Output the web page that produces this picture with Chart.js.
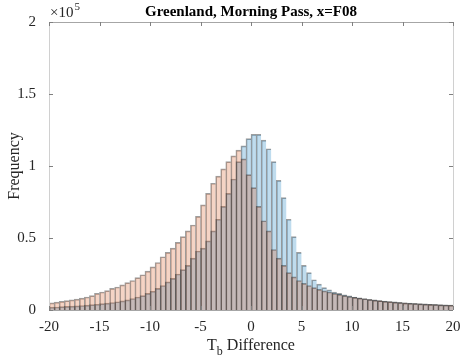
<!DOCTYPE html>
<html>
<head>
<meta charset="utf-8">
<script src="https://cdn.jsdelivr.net/npm/chart.js@4/dist/chart.umd.min.js"></script>
<style>
  html, body { margin: 0; padding: 0; background: #fff; }
  #wrap { width: 464px; height: 360px; }
</style>
</head>
<body>
<div id="wrap"><canvas id="myChart" width="464" height="360"></canvas></div>
<script>
// bin centres, 0.5 wide bins from -20 to 20
const binCenters = [
  -19.75, -19.25, -18.75, -18.25, -17.75, -17.25, -16.75, -16.25, -15.75, -15.25,
  -14.75, -14.25, -13.75, -13.25, -12.75, -12.25, -11.75, -11.25, -10.75, -10.25,
  -9.75, -9.25, -8.75, -8.25, -7.75, -7.25, -6.75, -6.25, -5.75, -5.25,
  -4.75, -4.25, -3.75, -3.25, -2.75, -2.25, -1.75, -1.25, -0.75, -0.25,
  0.25, 0.75, 1.25, 1.75, 2.25, 2.75, 3.25, 3.75, 4.25, 4.75,
  5.25, 5.75, 6.25, 6.75, 7.25, 7.75, 8.25, 8.75, 9.25, 9.75,
  10.25, 10.75, 11.25, 11.75, 12.25, 12.75, 13.25, 13.75, 14.25, 14.75,
  15.25, 15.75, 16.25, 16.75, 17.25, 17.75, 18.25, 18.75, 19.25, 19.75
];

// counts in thousands
const blueCounts = [
  2.0, 2.1, 2.3, 2.5, 2.7, 2.9, 3.1, 3.4, 3.7, 4.0,
  4.4, 4.8, 5.2, 5.7, 6.3, 7.0, 8.0, 9.0, 10, 11.5,
  13, 15, 17, 19.5, 22, 25, 28, 31, 36, 41,
  43, 48, 55, 63, 72, 81, 91, 103, 114, 119,
  122, 122, 118, 112, 103, 90, 78, 63, 51, 40,
  31, 26, 21, 18, 15.5, 14, 12.5, 11.5, 10.5, 9.8,
  9.0, 8.5, 8.0, 7.4, 7.0, 6.5, 6.2, 5.9, 5.6, 5.3,
  5.0, 4.8, 4.6, 4.4, 4.2, 4.0, 3.9, 3.7, 3.6, 3.5
];

const orangeCounts = [
  5.0, 5.5, 6.0, 6.5, 7.0, 7.6, 8.3, 9.0, 10.0, 11.5,
  12.5, 13.5, 15, 16, 17.5, 19, 20.5, 22.5, 24.5, 27,
  30, 33, 37, 40, 43, 47, 51, 55, 59, 65,
  73, 81, 88, 93, 98, 103, 107, 111, 105, 94,
  85, 72, 62, 55, 42, 36, 31, 26, 23, 20.5,
  18.5, 17, 15.5, 14.3, 13.3, 12.5, 11.6, 10.8, 10, 9.4,
  8.8, 8.3, 7.8, 7.3, 6.9, 6.5, 6.1, 5.8, 5.5, 5.2,
  4.9, 4.7, 4.5, 4.3, 4.1, 3.9, 3.8, 3.6, 3.5, 3.4
];

const xTicks = [-20, -15, -10, -5, 0, 5, 10, 15, 20];
const yTicks = [0, 50000, 100000, 150000, 200000];

const titleText = "Greenland, Morning Pass, x=F08";
const serif = "'Liberation Serif', 'Times New Roman', serif";
const textColor = "#262626";

const toPoints = (arr) => arr.map((v, i) => ({ x: binCenters[i], y: v * 1000 }));

// box, inward ticks, title, exponent and axis titles (MATLAB look)
const decor = {
  id: "decor",
  afterDraw(chart) {
    const { ctx, chartArea: a, scales } = chart;
    const xs = scales.x, ys = scales.y;
    ctx.save();
    ctx.lineWidth = 1;
    ctx.strokeStyle = "#a6a6a6";
    ctx.beginPath();
    ctx.moveTo(a.left, a.top + 0.5); ctx.lineTo(a.right, a.top + 0.5);
    ctx.moveTo(a.left, a.bottom + 0.5); ctx.lineTo(a.right, a.bottom + 0.5);
    ctx.stroke();
    ctx.strokeStyle = "#d0d0d0";
    ctx.beginPath();
    ctx.moveTo(a.left + 0.5, a.top); ctx.lineTo(a.left + 0.5, a.bottom);
    ctx.moveTo(a.right + 0.5, a.top); ctx.lineTo(a.right + 0.5, a.bottom);
    ctx.stroke();

    ctx.strokeStyle = "#808080";
    ctx.beginPath();
    xTicks.forEach((t) => {
      const px = Math.round(xs.getPixelForValue(t)) + 0.5;
      ctx.moveTo(px, a.top); ctx.lineTo(px, a.top + 4);
      ctx.moveTo(px, a.bottom); ctx.lineTo(px, a.bottom - 4);
    });
    yTicks.forEach((t) => {
      const py = Math.round(ys.getPixelForValue(t)) + 0.5;
      ctx.moveTo(a.left, py); ctx.lineTo(a.left + 4, py);
      ctx.moveTo(a.right, py); ctx.lineTo(a.right - 4, py);
    });
    ctx.stroke();

    // title, centred over the axes
    ctx.fillStyle = "#000";
    ctx.textBaseline = "alphabetic";
    ctx.textAlign = "center";
    ctx.font = "bold 15px " + serif;
    ctx.fillText(titleText, (a.left + a.right) / 2, 16);

    ctx.fillStyle = textColor;
    // exponent label
    ctx.font = "15px " + serif;
    ctx.textAlign = "left";
    ctx.fillText("\u00d710", a.left + 1, a.top - 5);
    const w = ctx.measureText("\u00d710").width;
    ctx.font = "11px " + serif;
    ctx.fillText("5", a.left + 2 + w, a.top - 12);

    // x title with subscript
    ctx.font = "16px " + serif;
    const tW = ctx.measureText("T").width;
    ctx.font = "12px " + serif;
    const bW = ctx.measureText("b").width;
    ctx.font = "16px " + serif;
    const dW = ctx.measureText(" Difference").width;
    const total = tW + bW + dW;
    let x0 = (a.left + a.right) / 2 - total / 2;
    const base = 350;
    ctx.fillText("T", x0, base);
    ctx.font = "12px " + serif;
    ctx.fillText("b", x0 + tW, base + 5);
    ctx.font = "16px " + serif;
    ctx.fillText(" Difference", x0 + tW + bW, base);

    // y title
    ctx.save();
    ctx.translate(19, (a.top + a.bottom) / 2);
    ctx.rotate(-Math.PI / 2);
    ctx.textAlign = "center";
    ctx.fillText("Frequency", 0, 0);
    ctx.restore();
    ctx.restore();
  }
};

const ctx = document.getElementById("myChart").getContext("2d");

// first dataset is painted last (on top) in Chart.js
const myChart = new Chart(ctx, {
  type: "bar",
  data: {
    datasets: [
      {
        label: "orange",
        data: toPoints(orangeCounts),
        backgroundColor: "rgba(217, 83, 25, 0.25)",
        borderColor: "rgba(0, 0, 0, 0.38)",
        borderWidth: { left: 1, top: 1, right: 0, bottom: 0 },
        borderSkipped: false,
        grouped: false,
        barPercentage: 1,
        categoryPercentage: 1,
      },
      {
        label: "blue",
        data: toPoints(blueCounts),
        backgroundColor: "rgba(0, 114, 189, 0.25)",
        borderColor: "rgba(0, 0, 0, 0.38)",
        borderWidth: { left: 1, top: 1, right: 0, bottom: 0 },
        borderSkipped: false,
        grouped: false,
        barPercentage: 1,
        categoryPercentage: 1,
      },
    ],
  },
  options: {
    responsive: false,
    animation: false,
    layout: {
      padding: { top: 22, right: 11, bottom: 0, left: 0 },
    },
    scales: {
      x: {
        type: "linear",
        min: -20,
        max: 20,
        offset: false,
        grid: { display: false },
        border: { display: false },
        afterBuildTicks: (scale) => {
          scale.ticks = xTicks.map((v) => ({ value: v }));
        },
        afterFit: (scale) => { scale.height = 50; },
        ticks: {
          color: textColor,
          padding: 0,
          maxRotation: 0,
          font: { family: serif, size: 15 },
        },
      },
      y: {
        min: 0,
        max: 200000,
        grid: { display: false },
        border: { display: false },
        afterBuildTicks: (scale) => {
          scale.ticks = yTicks.map((v) => ({ value: v }));
        },
        afterFit: (scale) => { scale.width = 49; },
        ticks: {
          color: textColor,
          padding: 5,
          font: { family: serif, size: 15 },
          callback: (value) => String(value / 100000),
        },
      },
    },
    plugins: {
      title: { display: false },
      legend: { display: false },
      tooltip: { enabled: false },
    },
  },
  plugins: [decor],
});
</script>
</body>
</html>
